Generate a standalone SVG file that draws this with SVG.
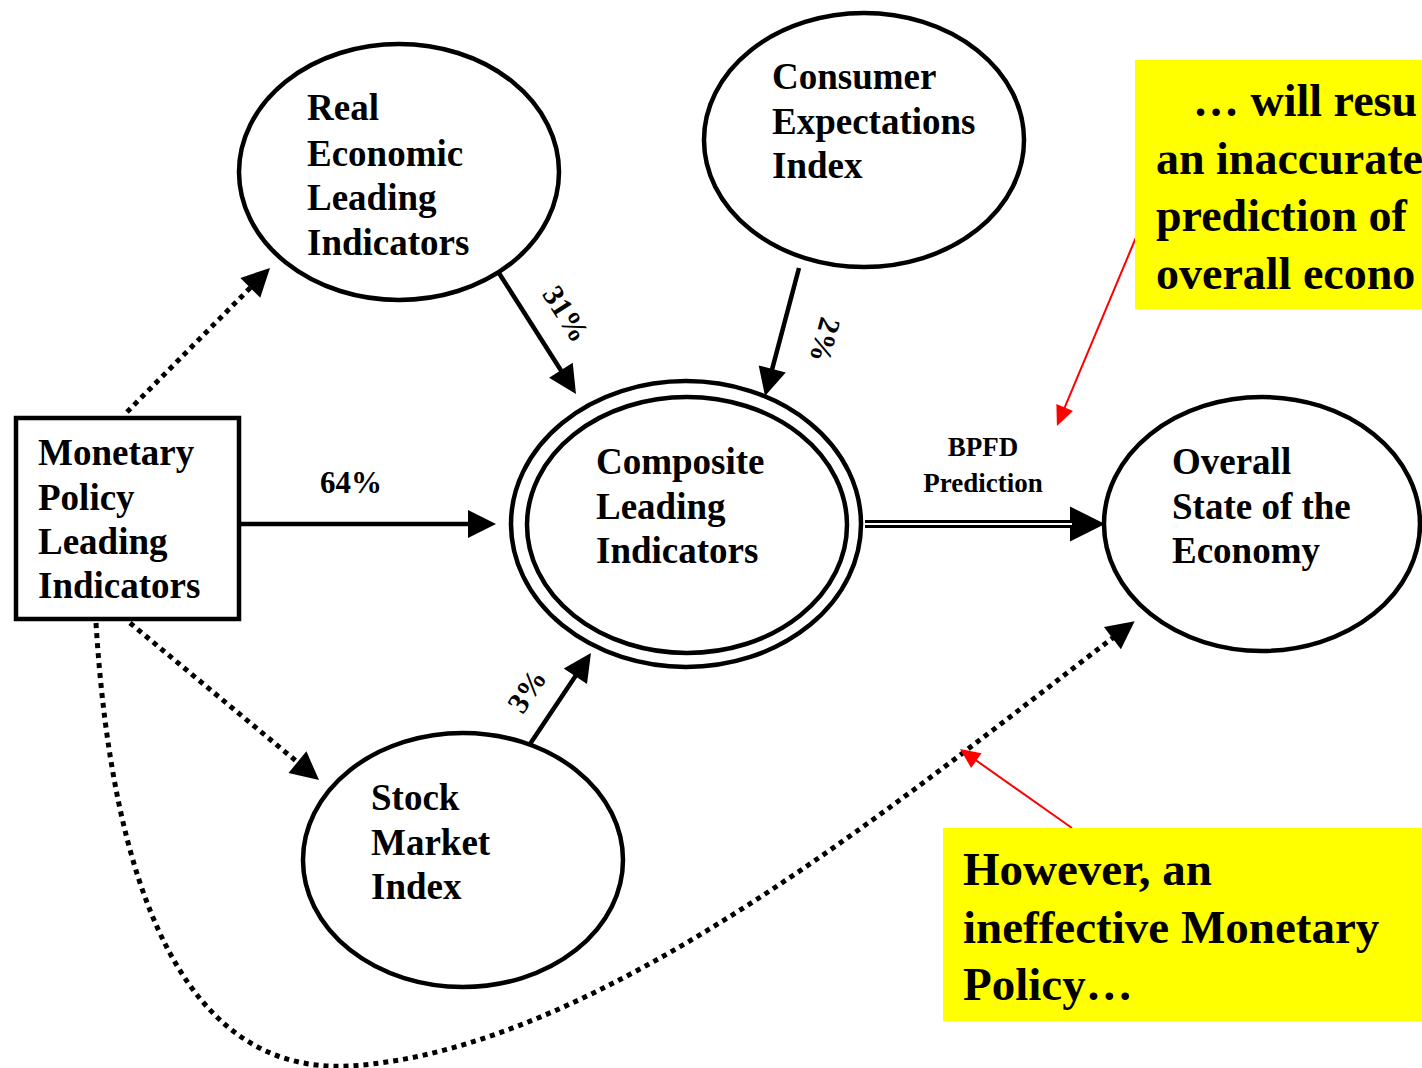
<svg xmlns="http://www.w3.org/2000/svg" width="1422" height="1068" viewBox="0 0 1422 1068">
<style>
.node{fill:#fff;stroke:#000;stroke-width:4.5}
.t{font-family:"Liberation Serif","Times New Roman",serif;font-weight:bold;font-size:37px;fill:#000}
.lbl{font-family:"Liberation Serif","Times New Roman",serif;font-weight:bold;font-size:30px;fill:#000}
.note{font-family:"Liberation Serif","Times New Roman",serif;font-weight:bold;font-size:46px;fill:#000}
.solid{fill:none;stroke:#000;stroke-width:4.5}
.dot{fill:none;stroke:#000;stroke-width:5;stroke-dasharray:5 5}
.red{fill:none;stroke:#f00;stroke-width:2}
</style>
<defs>
<marker id="ah" markerUnits="userSpaceOnUse" markerWidth="30" markerHeight="30" refX="2" refY="14" orient="auto" overflow="visible"><path d="M0,0 L28,14 L0,28 z" fill="#000"/></marker>
<marker id="ahBig" markerUnits="userSpaceOnUse" markerWidth="36" markerHeight="36" refX="2" refY="17.5" orient="auto" overflow="visible"><path d="M0,0 L35,17.5 L0,35 z" fill="#000"/></marker>
<marker id="ahRed" markerUnits="userSpaceOnUse" markerWidth="22" markerHeight="20" refX="2" refY="9" orient="auto" overflow="visible"><path d="M0,0 L20,9 L0,18 z" fill="#f00"/></marker>
</defs>
<rect width="1422" height="1068" fill="#fff"/>

<g id="connectors">
<line class="solid" x1="241" y1="524" x2="470" y2="524" marker-end="url(#ah)"/>
<line class="solid" x1="497" y1="270" x2="562" y2="372" marker-end="url(#ah)"/>
<line class="solid" x1="799" y1="268" x2="771.7" y2="370.9" marker-end="url(#ah)"/>
<line class="solid" x1="528" y1="747" x2="576.5" y2="674.6" marker-end="url(#ah)"/>
<line x1="865" y1="524" x2="1072" y2="524" stroke="#000" stroke-width="8" marker-end="url(#ahBig)"/>
<line x1="865" y1="524" x2="1072" y2="524" stroke="#fff" stroke-width="2"/>
<line class="dot" x1="127" y1="412" x2="251.7" y2="286.4" marker-end="url(#ah)"/>
<line class="dot" x1="130" y1="623" x2="299" y2="763.4" marker-end="url(#ah)"/>
<path class="dot" d="M96,623 C112,880 180,1075 350,1066 C600,1050 900,800 1114,637" marker-end="url(#ah)"/>
<line class="red" x1="1137" y1="235" x2="1063.9" y2="409.4" marker-end="url(#ahRed)"/>
<line class="red" x1="1072" y1="828" x2="974.7" y2="759.4" marker-end="url(#ahRed)"/>
<text class="lbl" x="351" y="493" text-anchor="middle" style="font-size:31px">64%</text>
<text class="lbl" transform="translate(566,314) rotate(57.5)" text-anchor="middle" y="10">31%</text>
<text class="lbl" transform="translate(825,340) rotate(105)" text-anchor="middle" y="10">2%</text>
<text class="lbl" transform="translate(527,691) rotate(-56)" text-anchor="middle" y="10">3%</text>
<text class="lbl" x="983" y="456" text-anchor="middle" style="font-size:27px">BPFD</text>
<text class="lbl" x="983" y="492" text-anchor="middle" style="font-size:27px">Prediction</text>
</g>

<g id="monetary">
<rect class="node" x="16" y="418" width="223" height="201"/>
<text class="t" x="38" y="465">Monetary</text>
<text class="t" x="38" y="510">Policy</text>
<text class="t" x="38" y="554">Leading</text>
<text class="t" x="38" y="598">Indicators</text>
</g>

<g id="real">
<ellipse class="node" cx="399" cy="172" rx="160" ry="128"/>
<text class="t" x="307" y="120">Real</text>
<text class="t" x="307" y="166">Economic</text>
<text class="t" x="307" y="210">Leading</text>
<text class="t" x="307" y="255">Indicators</text>
</g>

<g id="consumer">
<ellipse class="node" cx="864" cy="140" rx="160" ry="127"/>
<text class="t" x="772" y="89">Consumer</text>
<text class="t" x="772" y="134">Expectations</text>
<text class="t" x="772" y="178">Index</text>
</g>

<g id="composite">
<ellipse class="node" cx="686" cy="524" rx="175" ry="143"/>
<ellipse class="node" cx="687" cy="525" rx="160" ry="128"/>
<text class="t" x="596" y="474">Composite</text>
<text class="t" x="596" y="519">Leading</text>
<text class="t" x="596" y="563">Indicators</text>
</g>

<g id="overall">
<ellipse class="node" cx="1262" cy="524" rx="158" ry="127"/>
<text class="t" x="1172" y="474">Overall</text>
<text class="t" x="1172" y="519">State of the</text>
<text class="t" x="1172" y="563">Economy</text>
</g>

<g id="stock">
<ellipse class="node" cx="463" cy="860" rx="160" ry="127"/>
<text class="t" x="371" y="810">Stock</text>
<text class="t" x="371" y="855">Market</text>
<text class="t" x="371" y="899">Index</text>
</g>

<g id="note-top">
<rect x="1135" y="60" width="287" height="249" fill="#ff0"/>
<text class="note" x="1193" y="116">… will resu</text>
<text class="note" x="1156" y="174">an inaccurate</text>
<text class="note" x="1156" y="231">prediction of</text>
<text class="note" x="1156" y="289">overall econo</text>
</g>

<g id="note-bottom">
<rect x="943" y="828" width="479" height="193" fill="#ff0"/>
<text class="note" x="963" y="885" style="font-size:47px">However, an</text>
<text class="note" x="963" y="943" style="font-size:47px">ineffective Monetary</text>
<text class="note" x="963" y="1000" style="font-size:47px">Policy…</text>
</g>
</svg>
